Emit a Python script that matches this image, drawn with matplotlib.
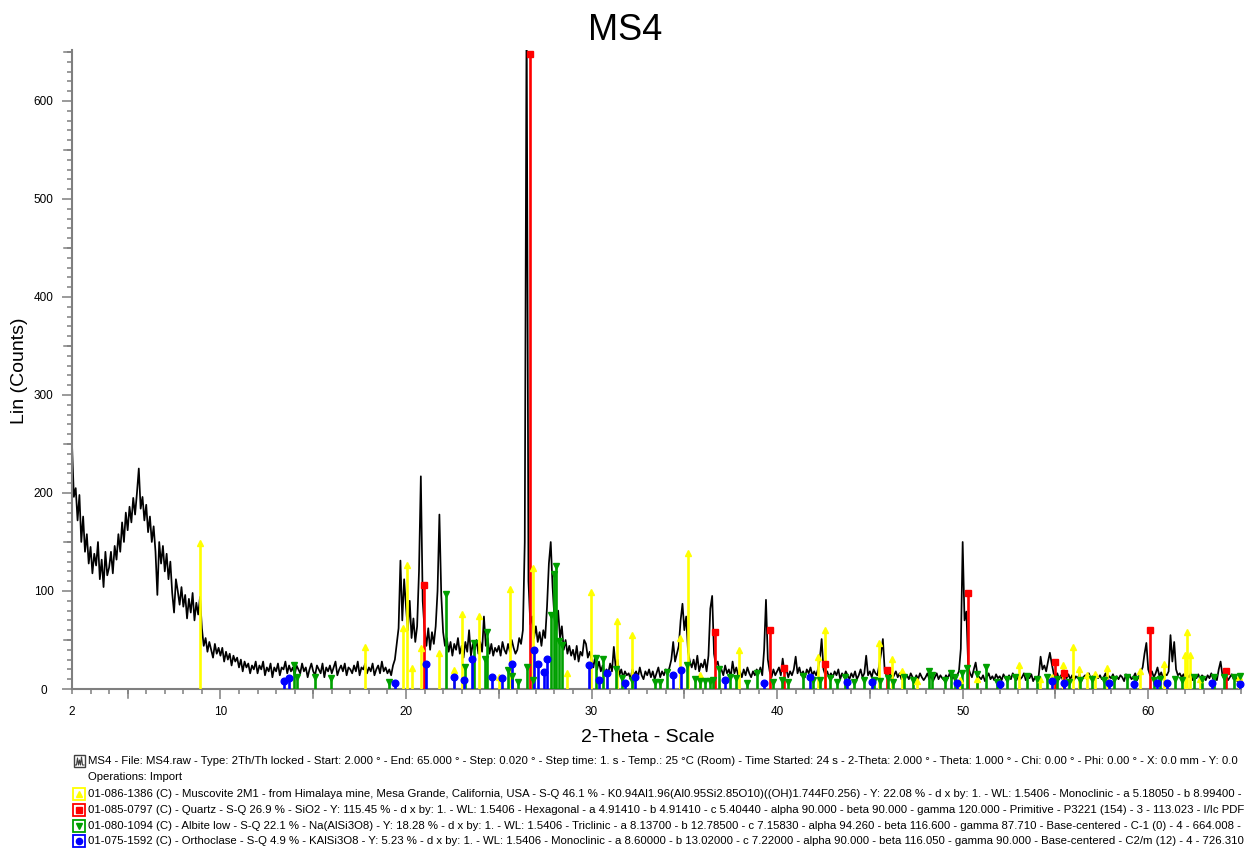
import numpy as np
import matplotlib
matplotlib.use("Agg")
import matplotlib.pyplot as plt
from matplotlib.patches import Rectangle
from matplotlib.lines import Line2D
from matplotlib.ticker import FixedLocator, MultipleLocator

plt.rcParams['font.family'] = ['Liberation Sans', 'DejaVu Sans']

# scan MS4: 2.0 - 65.0 deg 2-theta, counts read every 0.1 deg
counts = np.array([
    250, 196, 205, 172, 198, 150, 176, 140, 158, 128,
    145, 118, 138, 126, 150, 112, 132, 104, 140, 116,
    124, 140, 118, 146, 132, 158, 140, 170, 150, 180,
    162, 186, 170, 195, 178, 200, 225, 184, 196, 172,
    188, 160, 176, 150, 166, 140, 96, 150, 128, 146,
    120, 138, 112, 130, 98, 78, 112, 100, 86, 104,
    84, 96, 72, 92, 78, 98, 70, 88, 76, 94,
    62, 44, 52, 38, 48, 40, 32, 46, 36, 42,
    34, 42, 28, 38, 30, 36, 24, 34, 28, 32,
    22, 30, 18, 28, 22, 26, 16, 24, 20, 28,
    16, 24, 20, 28, 14, 22, 18, 26, 12, 22,
    18, 26, 14, 22, 20, 28, 16, 24, 18, 22,
    14, 24, 20, 16, 26, 18, 22, 12, 20, 26,
    18, 14, 24, 20, 16, 26, 12, 22, 18, 24,
    16, 22, 28, 14, 20, 24, 18, 26, 14, 22,
    20, 16, 24, 18, 28, 14, 22, 20, 26, 16,
    22, 18, 26, 14, 20, 24, 16, 28, 18, 22,
    16, 20, 14, 24, 30, 46, 62, 131, 70, 112,
    84, 60, 90, 52, 72, 48, 64, 120, 217, 90,
    60, 44, 62, 40, 58, 46, 64, 100, 178, 96,
    58, 44, 52, 38, 48, 34, 46, 40, 52, 36,
    44, 32, 48, 38, 60, 34, 46, 40, 50, 36,
    48, 38, 74, 44, 52, 36, 46, 34, 42, 38,
    44, 34, 48, 40, 36, 46, 38, 50, 42, 36,
    40, 52, 46, 60, 150, 700, 110, 66, 74, 52,
    64, 48, 58, 44, 60, 52, 84, 128, 150, 104,
    72, 60, 80, 52, 64, 40, 50, 36, 44, 34,
    40, 30, 44, 28, 38, 34, 50, 46, 32, 38,
    30, 22, 34, 20, 28, 18, 24, 14, 20, 16,
    26, 18, 43, 22, 30, 14, 20, 12, 18, 14,
    16, 10, 20, 14, 18, 12, 22, 14, 10, 18,
    14, 20, 12, 18, 10, 16, 22, 12, 18, 14,
    20, 16, 22, 30, 48, 28, 36, 44, 70, 87,
    60, 74, 38, 28, 22, 30, 20, 34, 18, 26,
    22, 30, 18, 34, 82, 95, 36, 24, 28, 18,
    20, 14, 24, 16, 20, 12, 28, 16, 22, 14,
    18, 12, 20, 14, 22, 16, 12, 18, 14, 20,
    16, 22, 14, 40, 91, 30, 18, 12, 20, 14,
    18, 22, 14, 31, 16, 20, 12, 18, 14, 20,
    33, 16, 22, 14, 18, 12, 20, 16, 22, 14,
    18, 14, 20, 30, 51, 20, 14, 18, 12, 16,
    12, 18, 14, 20, 10, 16, 12, 18, 14, 10,
    16, 12, 18, 10, 14, 20, 12, 16, 34, 14,
    18, 12, 20, 16, 14, 24, 36, 51, 18, 14,
    12, 16, 10, 14, 18, 12, 16, 10, 14, 12,
    14, 10, 16, 12, 8, 14, 10, 16, 12, 9,
    12, 16, 10, 14, 8, 12, 16, 10, 14, 11,
    9, 14, 11, 16, 10, 13, 8, 14, 18, 41,
    150, 70, 79, 22, 16, 12, 20, 27, 14, 12,
    10, 14, 8, 12, 16, 10, 13, 9, 15, 11,
    13, 9, 15, 11, 8, 14, 10, 16, 12, 9,
    14, 10, 12, 16, 9, 13, 11, 15, 8, 12,
    10, 14, 33, 20, 24, 18, 28, 37, 26, 16,
    12, 16, 10, 14, 9, 13, 11, 15, 10, 14,
    9, 13, 11, 15, 8, 12, 14, 10, 16, 11,
    13, 9, 15, 11, 14, 10, 12, 16, 9, 13,
    11, 15, 9, 13, 10, 14, 12, 8, 15, 11,
    14, 10, 12, 16, 9, 13, 18, 22, 36, 47,
    20, 14, 18, 12, 16, 22, 13, 17, 11, 15,
    14, 18, 55, 28, 48, 20, 14, 16, 12, 15,
    10, 14, 12, 16, 9, 13, 11, 15, 10, 14,
    12, 9, 14, 11, 16, 10, 13, 9, 20, 28,
    14, 10, 13, 9, 12, 15, 10, 13, 8, 12,
    11,
])
two_theta = np.linspace(2.0, 65.0, len(counts))

# reference patterns (2-theta, scaled intensity)
muscovite_pos = [8.92, 17.81, 19.86, 20.04, 20.35, 20.80, 21.77, 22.60, 23.04, 23.94,
                 25.02, 25.63, 26.85, 28.67, 29.96, 31.36, 32.17, 34.78, 35.19, 35.85,
                 37.97, 42.23, 42.60, 45.47, 46.19, 46.73, 47.54, 49.87, 50.77, 53.02,
                 54.19, 54.82, 55.39, 55.93, 56.25, 56.70, 57.15, 57.78, 59.58, 60.84,
                 61.97, 62.09, 62.24, 62.81, 64.88]
muscovite_int = [149, 43, 62, 127, 21, 42, 37, 19, 77, 74,
                 12, 102, 123, 16, 99, 69, 55, 52, 139, 14,
                 40, 33, 60, 47, 31, 18, 8, 9, 10, 24,
                 10, 12, 24, 43, 20, 14, 15, 21, 18, 26,
                 35, 58, 35, 10, 12]

quartz_pos = [20.96, 26.70, 36.66, 39.59, 40.38, 42.60, 45.92, 50.27, 55.00, 55.48, 60.08, 64.20]
quartz_int = [106, 648, 58, 60, 21, 26, 19, 98, 28, 16, 60, 18]

albite_pos = [13.98, 14.15, 15.10, 15.94, 19.10, 22.14, 23.18, 23.65, 24.24, 24.39,
              25.52, 25.73, 26.02, 26.51, 26.83, 27.82, 27.98, 28.09, 28.25, 28.41,
              30.24, 30.60, 31.32, 31.63, 32.17, 33.42, 33.70, 34.05, 35.13, 35.58,
              35.85, 36.12, 36.39, 36.57, 36.89, 37.47, 37.79, 38.37, 38.90, 39.80,
              40.25, 40.61, 41.39, 41.96, 42.32, 42.86, 43.25, 43.67, 44.12, 44.66,
              45.20, 45.55, 45.95, 46.27, 46.82, 47.32, 48.17, 48.35, 49.07, 49.37,
              49.60, 49.96, 50.23, 50.77, 51.26, 51.85, 52.39, 52.84, 53.47, 54.01,
              54.55, 55.10, 55.71, 56.34, 56.97, 57.60, 58.14, 58.86, 59.31, 60.30,
              60.66, 61.46, 61.82, 62.45, 62.90, 63.53, 64.07, 64.61, 64.97]
albite_int = [24, 12, 12, 11, 7, 97, 22, 47, 31, 58,
              19, 13, 7, 22, 9, 75, 117, 125, 49, 45,
              32, 31, 20, 11, 9, 7, 7, 17, 24, 10,
              8, 8, 8, 9, 20, 12, 11, 6, 16, 7,
              9, 7, 13, 9, 9, 11, 7, 12, 7, 9,
              9, 8, 11, 7, 12, 9, 18, 14, 9, 16,
              12, 16, 21, 15, 22, 7, 10, 12, 13, 10,
              12, 10, 7, 9, 10, 9, 10, 12, 10, 9,
              10, 10, 9, 12, 10, 12, 12, 12, 13]

orthoclase_pos = [13.43, 13.71, 19.41, 21.06, 22.57, 23.13, 23.54, 24.66, 25.20, 25.70,
                  26.92, 27.14, 27.46, 27.58, 29.87, 30.42, 30.82, 31.80, 32.35, 34.41,
                  34.83, 37.20, 39.27, 41.78, 43.76, 45.10, 49.70, 52.03, 54.82, 55.44,
                  57.87, 59.22, 60.48, 61.02, 63.44, 64.97]
orthoclase_int = [8.5, 11, 6, 26, 12.5, 9, 31, 12, 11, 26,
                  40, 26, 17, 31, 24, 9, 16, 6, 12, 14,
                  19, 9, 6, 12, 7, 7, 6, 5, 8, 6,
                  6, 5, 6, 6, 6, 5]

legend_lines = [
    "MS4 - File: MS4.raw - Type: 2Th/Th locked - Start: 2.000 ° - End: 65.000 ° - Step: 0.020 ° - Step time: 1. s - Temp.: 25 °C (Room) - Time Started: 24 s - 2-Theta: 2.000 ° - Theta: 1.000 ° - Chi: 0.00 ° - Phi: 0.00 ° - X: 0.0 mm - Y: 0.0",
    "Operations: Import",
    "01-086-1386 (C) - Muscovite 2M1 - from Himalaya mine, Mesa Grande, California, USA - S-Q 46.1 % - K0.94Al1.96(Al0.95Si2.85O10)((OH)1.744F0.256) - Y: 22.08 % - d x by: 1. - WL: 1.5406 - Monoclinic - a 5.18050 - b 8.99400 -",
    "01-085-0797 (C) - Quartz - S-Q 26.9 % - SiO2 - Y: 115.45 % - d x by: 1. - WL: 1.5406 - Hexagonal - a 4.91410 - b 4.91410 - c 5.40440 - alpha 90.000 - beta 90.000 - gamma 120.000 - Primitive - P3221 (154) - 3 - 113.023 - I/Ic PDF",
    "01-080-1094 (C) - Albite low - S-Q 22.1 % - Na(AlSi3O8) - Y: 18.28 % - d x by: 1. - WL: 1.5406 - Triclinic - a 8.13700 - b 12.78500 - c 7.15830 - alpha 94.260 - beta 116.600 - gamma 87.710 - Base-centered - C-1 (0) - 4 - 664.008 -",
    "01-075-1592 (C) - Orthoclase - S-Q 4.9 % - KAlSi3O8 - Y: 5.23 % - d x by: 1. - WL: 1.5406 - Monoclinic - a 8.60000 - b 13.02000 - c 7.22000 - alpha 90.000 - beta 116.050 - gamma 90.000 - Base-centered - C2/m (12) - 4 - 726.310",
]

phases = [
    (muscovite_pos, muscovite_int, "#FFFF00", "^"),
    (quartz_pos, quartz_int, "#FF0000", "s"),
    (albite_pos, albite_int, "#00A000", "v"),
    (orthoclase_pos, orthoclase_int, "#0000FF", "o"),
]

W, H = 1247, 850
fig = plt.figure(figsize=(W / 100, H / 100), dpi=100)


def fx(px):
    return px / W


def fy(py):
    return 1 - py / H


ax = fig.add_axes([fx(72), fy(689), fx(1241) - fx(72), fy(50) - fy(689)])
ax.plot(two_theta, counts, color="black", lw=1.25, zorder=2)

for pos, inten, col, mk in phases:
    ax.vlines(pos, 0, inten, colors=col, lw=1.9, zorder=3)
    ax.plot(pos, inten, ls="none", marker=mk, ms=4.8, color=col, mec=col,
            zorder=4, clip_on=False)

ax.set_xlim(2, 65)
ax.set_ylim(0, 652)

axis_gray = "#7f7f7f"
for s in ["top", "right"]:
    ax.spines[s].set_visible(False)
for s in ["left", "bottom"]:
    ax.spines[s].set_color(axis_gray)
    ax.spines[s].set_linewidth(1.5)

ax.xaxis.set_major_locator(FixedLocator([2, 10, 20, 30, 40, 50, 60]))
ax.xaxis.set_minor_locator(MultipleLocator(1))
ax.yaxis.set_major_locator(MultipleLocator(100))
ax.yaxis.set_minor_locator(MultipleLocator(10))
ax.tick_params(which="major", length=7.5, width=1.1, color=axis_gray, labelsize=8.5)
ax.tick_params(which="minor", length=3.8, width=1.1, color=axis_gray)
ax.tick_params(axis="x", which="major", pad=5)
ax.tick_params(axis="y", which="major", pad=13)
for lab in ax.get_yticklabels():
    lab.set_horizontalalignment("center")
ax.xaxis.get_major_ticks()[0].tick1line.set_markersize(3.8)

# half-way ticks (5, 15, ... and 50, 150, ...)
for x in range(5, 65, 10):
    ax.plot([x, x], [0, -9 / 639], transform=ax.get_xaxis_transform(),
            color=axis_gray, lw=1.1, clip_on=False, zorder=1)
for y in range(50, 652, 100):
    ax.plot([0, -8 / 1169], [y, y], transform=ax.get_yaxis_transform(),
            color=axis_gray, lw=1.1, clip_on=False, zorder=1)

fig.text(fx(625), fy(30), "MS4", ha="center", va="center", fontsize=26)
fig.text(fx(648), fy(738), "2-Theta - Scale", ha="center", va="center", fontsize=14)
fig.text(fx(20), fy(371), "Lin (Counts)", ha="center", va="center", fontsize=14, rotation=90)

# legend block under the axes
rows_y = [761, 777, 794, 810, 826, 841]
for text, ry in zip(legend_lines, rows_y):
    fig.text(fx(88), fy(ry), text, ha="left", va="center", fontsize=8.2)

# scan icon
fig.add_artist(Rectangle((fx(74), fy(767)), fx(11), fy(755) - fy(767),
                         transform=fig.transFigure, fill=False, ec="#404040", lw=1))
zig_x = [75, 76.5, 77.5, 78.5, 79.5, 80.5, 81.5, 82.5, 84]
zig_y = [765, 765, 758, 765, 760, 765, 757, 765, 765]
fig.add_artist(Line2D([fx(v) for v in zig_x], [fy(v) for v in zig_y],
                      transform=fig.transFigure, color="#404040", lw=0.8))

# phase icons
for (pos, inten, col, mk), ry in zip(phases, rows_y[2:]):
    fig.add_artist(Rectangle((fx(73), fy(ry + 6)), fx(12), fy(ry - 6) - fy(ry + 6),
                             transform=fig.transFigure, fc="white", ec=col, lw=1.3))
    fig.add_artist(Line2D([fx(79)], [fy(ry)], transform=fig.transFigure,
                          marker=mk, ms=4.5, color=col, mec=col, ls="none"))

fig.savefig("out.png", dpi=100)
